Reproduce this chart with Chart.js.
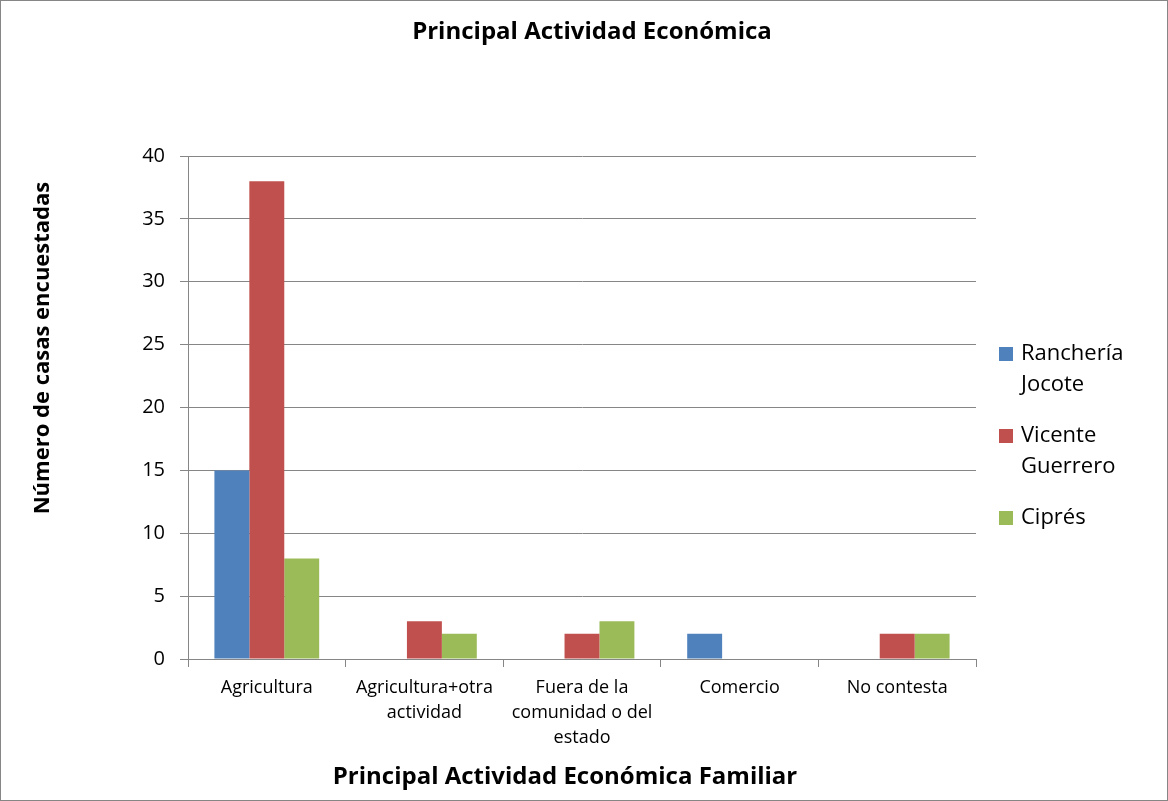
<!DOCTYPE html>
<html>
<head>
<meta charset="utf-8">
<script src="https://cdn.jsdelivr.net/npm/chart.js@4/dist/chart.umd.min.js"></script>
<style>
  html, body { margin: 0; padding: 0; background: #fff; }
  #wrap { position: relative; width: 1166px; height: 799px; border: 1px solid #868686; }
</style>
</head>
<body>
<div id="wrap"><canvas id="c"></canvas></div>
<script>
const chartTitle = "Principal Actividad Económica";
const xTitle = "Principal Actividad Económica Familiar";
const yTitle = "Número de casas encuestadas";
const categories = [
  ["Agricultura"],
  ["Agricultura+otra", "actividad"],
  ["Fuera de la", "comunidad o del", "estado"],
  ["Comercio"],
  ["No contesta"]
];
const seriesNames = ["Ranchería Jocote", "Vicente Guerrero", "Ciprés"];
const legendLines = [["Ranchería", "Jocote"], ["Vicente", "Guerrero"], ["Ciprés"]];
const rancheriaJocote = [15, 0, 0, 2, 0];
const vicenteGuerrero = [38, 3, 2, 0, 2];
const cipres = [8, 2, 3, 0, 2];
const colors = ["#4F81BD", "#C0504D", "#9BBB59"];
const yMin = 0, yMax = 40, yStep = 5;

const FONT = "'Open Sans', 'Noto Sans', sans-serif";

const textPlugin = {
  id: 'textLayer',
  afterDraw(chart) {
    const ctx = chart.ctx;
    ctx.save();
    ctx.fillStyle = "#000";
    ctx.textAlign = "center";
    ctx.textBaseline = "middle";
    // chart title
    ctx.font = "bold 24px " + FONT;
    ctx.fillText(chartTitle, chart.width / 2 + 8, 31);
    // x axis title
    ctx.font = "bold 24px " + FONT;
    ctx.fillText(xTitle, 564, 776);
    // y axis title
    ctx.save();
    ctx.translate(42, 347);
    ctx.rotate(-Math.PI / 2);
    ctx.font = "bold 22px " + FONT;
    ctx.fillText(yTitle, 0, 0);
    ctx.restore();
    // legend
    ctx.textAlign = "left";
    ctx.font = "22px " + FONT;
    let y = 353;
    chart.data.datasets.forEach((ds, i) => {
      ctx.fillStyle = ds.backgroundColor;
      ctx.fillRect(998, y - 7, 14, 14);
      ctx.fillStyle = "#000";
      legendLines[i].forEach((ln, j) => {
        ctx.fillText(ln, 1020, y + j * 31);
      });
      y += legendLines[i].length * 31 + 20;
    });
    ctx.restore();
  }
};

new Chart(document.getElementById('c'), {
  type: 'bar',
  data: {
    labels: categories,
    datasets: [
      { label: seriesNames[0], data: rancheriaJocote, backgroundColor: colors[0] },
      { label: seriesNames[1], data: vicenteGuerrero, backgroundColor: colors[1] },
      { label: seriesNames[2], data: cipres, backgroundColor: colors[2] }
    ]
  },
  options: {
    responsive: true,
    maintainAspectRatio: false,
    animation: false,
    datasets: { bar: { categoryPercentage: 0.665, barPercentage: 1.0, borderWidth: 0 } },
    layout: { padding: { left: 10, right: 191, top: 155, bottom: 8 } },
    plugins: {
      legend: { display: false },
      tooltip: { enabled: false },
      title: { display: false }
    },
    scales: {
      x: {
        afterFit(scale) { scale.height = 133; },
        grid: { display: true, drawOnChartArea: false, offset: true, color: "#868686", tickLength: 8, tickColor: "#868686" },
        border: { color: "#868686", width: 1 },
        ticks: { color: "#000", font: { family: FONT, size: 18, lineHeight: 1.4 }, padding: 8, maxRotation: 0, autoSkip: false },
        title: { display: false }
      },
      y: {
        min: yMin, max: yMax,
        afterFit(scale) { scale.width = 177; },
        grid: { color: "#868686", tickLength: 8, tickColor: "#868686" },
        border: { color: "#868686", width: 1 },
        ticks: { stepSize: yStep, color: "#000", font: { family: FONT, size: 20 }, padding: 15 },
        title: { display: false }
      }
    }
  },
  plugins: [textPlugin]
});
</script>
</body>
</html>
